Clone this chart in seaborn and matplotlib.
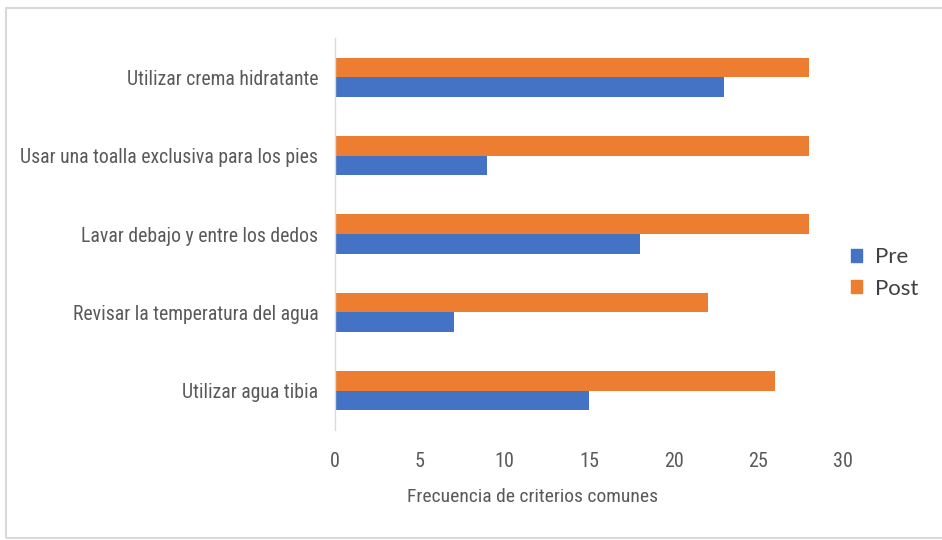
import matplotlib
matplotlib.use("Agg")
import matplotlib.pyplot as plt
import seaborn as sns
import pandas as pd
from matplotlib.patches import Rectangle, Patch

categories = ["Utilizar crema hidratante",
              "Usar una toalla exclusiva para los pies",
              "Lavar debajo y entre los dedos",
              "Revisar la temperatura del agua",
              "Utilizar agua tibia"]
pre = [23, 9, 18, 7, 15]
post = [28, 28, 28, 22, 26]
xticks = [0, 5, 10, 15, 20, 25, 30]

sns.set_theme(style="white")
plt.rcParams['font.family'] = ['Roboto Condensed', 'Lato', 'DejaVu Sans']

df = pd.DataFrame({
    "cat": categories * 2,
    "val": post + pre,
    "serie": ["Post"] * len(categories) + ["Pre"] * len(categories),
})

fig = plt.figure(figsize=(9.42, 5.40), dpi=100)
ax = fig.add_axes([335/942, 1-430/540, (843-335)/942, (430-38)/540])
colors = {"Pre": "#4472C4", "Post": "#ED7D31"}
sns.barplot(data=df, y="cat", x="val", hue="serie", hue_order=["Post", "Pre"],
            order=categories, palette=colors, width=0.5, orient="h", ax=ax,
            legend=False, saturation=1, linewidth=0)

ax.set_xlim(0, 30)
ax.set_xticks(xticks)
ax.set_xticklabels([str(t) for t in xticks])
ax.set_ylim(len(categories) - 0.5, -0.5)
text_col = "#595959"
ax.tick_params(axis="x", length=0, pad=16, labelsize=14.5, labelcolor=text_col)
ax.tick_params(axis="y", length=0, pad=12, labelsize=14.2, labelcolor=text_col)
ax.set_ylabel("")
ax.set_xlabel("Frecuencia de criterios comunes", fontsize=14, color=text_col)
ax.xaxis.set_label_coords((533 - 335) / 508, -(497 - 430) / 392, transform=ax.transAxes)
ax.xaxis.label.set_verticalalignment("center")
for s in ["top", "right", "bottom"]:
    ax.spines[s].set_visible(False)
ax.spines["left"].set_color("#D9D9D9")
ax.spines["left"].set_linewidth(1)
ax.grid(False)

handles = [Patch(color=colors["Pre"]), Patch(color=colors["Post"])]
fig.legend(handles, ["Pre", "Post"], loc="center left",
           bbox_to_anchor=(831/942, 1-273/540), frameon=False,
           prop={"family": ["Lato", "DejaVu Sans"], "size": 16},
           handlelength=0.5, handleheight=0.5, labelcolor="#404040",
           handletextpad=0.6, labelspacing=0.5)

fig.patches.append(Rectangle((6/942, 2/540), 940/942, 530/540, transform=fig.transFigure,
                             fill=False, edgecolor="#D9D9D9", linewidth=1.5))

fig.savefig("out.png", dpi=100)
